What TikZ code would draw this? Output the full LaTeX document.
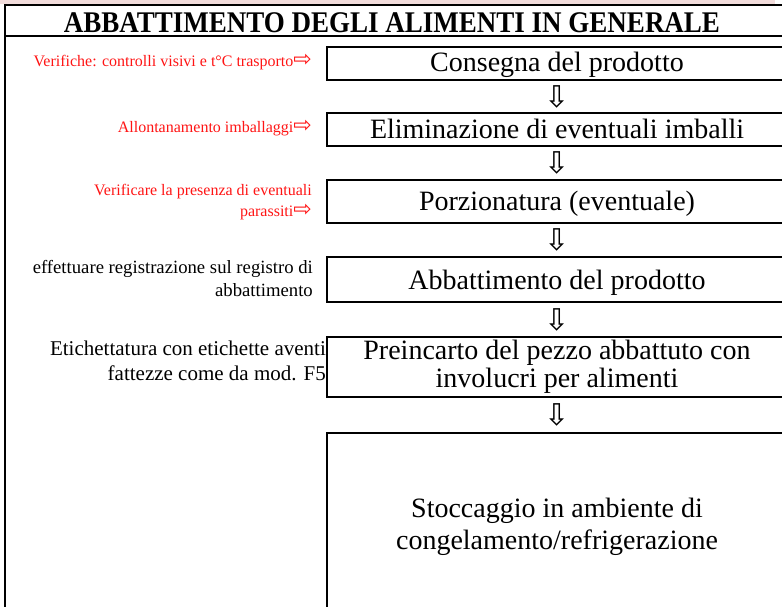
\documentclass[tikz,border=0pt]{standalone}
\usepackage{fontspec}
\setmainfont{Liberation Serif}
\newfontfamily\arrowfont{DejaVu Sans}
\usetikzlibrary{calc}
\definecolor{pinkband}{RGB}{242,220,219}
\definecolor{labred}{RGB}{255,20,20}
\newcommand{\rarrglyph}{{\arrowfont\fontsize{22}{20}\selectfont ⇨}}
\begin{document}
\begin{tikzpicture}[x=1pt,y=-1pt,
  frame/.style={line width=2pt},
  stepbox/.style={draw, line width=2pt, minimum width=460pt, inner sep=0pt, align=center,
    font=\fontsize{28}{28}\selectfont},
  titlelab/.style={inner sep=0pt, font=\bfseries\fontsize{30}{30}\selectfont},
  darr/.style={inner sep=0pt, font=\arrowfont\fontsize{30}{30}\selectfont},
  redlab/.style={inner sep=0pt, align=right, text=labred, font=\fontsize{16}{20.5}\selectfont},
  blklab/.style={inner sep=0pt, align=right, text=black}]
\useasboundingbox (0,0) rectangle (782,607);
\fill[pinkband] (0,0) rectangle (775,4);
\draw[frame] (782,5) -- (5,5) -- (5,607);
\draw[frame] (5,36) -- (782,36);
\node[titlelab, anchor=base] (title) at (392,32.5) {\scalebox{0.9}[1]{ABBATTIMENTO DEGLI ALIMENTI IN GENERALE}};

\node[stepbox, minimum height=33pt, text height=23pt, text depth=6pt] (b1) at (557,63.5) {Consegna del prodotto};
\node[stepbox, minimum height=33pt, text height=25pt, text depth=6pt] (b2) at (557,129.5) {Eliminazione di eventuali imballi};
\node[stepbox, minimum height=43pt, text height=25pt, text depth=6pt] (b3) at (557,201.5) {Porzionatura (eventuale)};
\node[stepbox, minimum height=45pt, text height=25pt, text depth=6pt] (b4) at (557,279.5) {Abbattimento del prodotto};
\node[stepbox, minimum height=60pt] (b5) at (557,367) {Preincarto del pezzo abbattuto con\\involucri per alimenti};
\node[stepbox, minimum height=182pt, text height=57.5pt, text depth=6pt, font=\fontsize{28}{32}\selectfont] (b6) at (557,524) {Stoccaggio in ambiente di\\congelamento/refrigerazione};

\node[darr] (a1) at ($(b1.south)!0.5!(b2.north)$) {⇩};
\node[darr] (a2) at ($(b2.south)!0.5!(b3.north)$) {⇩};
\node[darr] (a3) at ($(b3.south)!0.5!(b4.north)$) {⇩};
\node[darr] (a4) at ($(b4.south)!0.5!(b5.north)$) {⇩};
\node[darr] (a5) at ($(b5.south)!0.5!(b6.north)$) {⇩};

\node[redlab, anchor=base east] (l1) at (312,67) {Verifiche: controlli visivi e t°C trasporto\rarrglyph};
\node[redlab, anchor=base east] (l2) at (312,133) {Allontanamento imballaggi\rarrglyph};
\node[redlab, anchor=base east] (l3) at (312,216) {Verificare la presenza di eventuali\\parassiti\rarrglyph};
\node[blklab, anchor=base east, font=\fontsize{18.7}{23}\selectfont] (l4) at (313,296.5) {effettuare registrazione sul registro di\\abbattimento};
\node[blklab, anchor=base east, font=\fontsize{21}{25}\selectfont] (l5) at (326,380) {Etichettatura con etichette aventi\\fattezze come da mod. F5};
\end{tikzpicture}
\end{document}
